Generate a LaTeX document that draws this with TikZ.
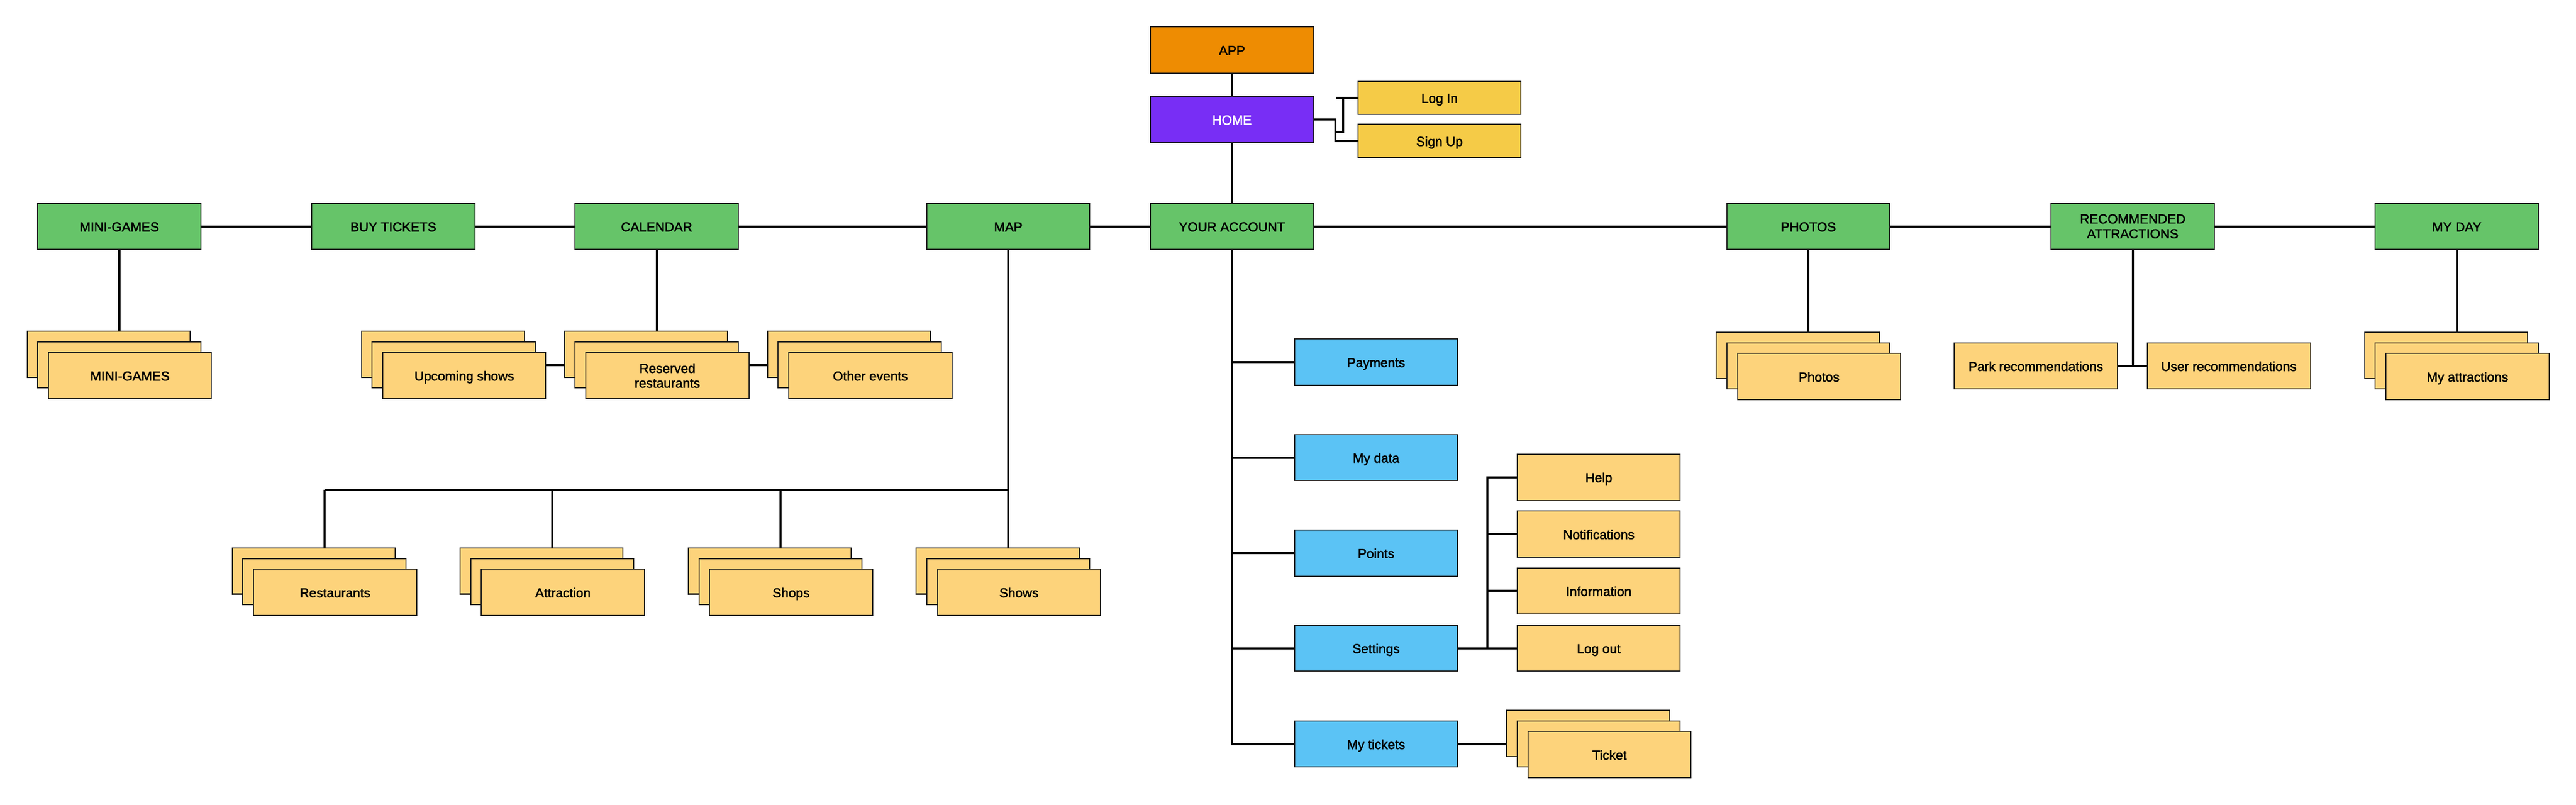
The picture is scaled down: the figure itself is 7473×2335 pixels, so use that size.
\documentclass[tikz,border=0pt]{standalone}
\usepackage{fontspec}
\setmainfont{Liberation Sans}
\newfontfamily\labelfont{Liberation Sans}[FakeBold=2]
\definecolor{apporange}{HTML}{EE8C02}
\definecolor{homepurple}{HTML}{782EF5}
\definecolor{mgreen}{HTML}{66C469}
\definecolor{mblue}{HTML}{5BC3F5}
\definecolor{myellow}{HTML}{F5CB47}
\definecolor{mpeach}{HTML}{FDD37B}
\definecolor{linec}{HTML}{1A1A1A}
\tikzset{
  boxbase/.style={draw=linec, line width=3pt, minimum width=473pt, minimum height=134pt,
    inner sep=0pt, align=center, font=\labelfont\fontsize{38}{43}\selectfont, text=black},
  box/.style={boxbase, text height=29pt, text depth=0pt},
  greenbox/.style={box, fill=mgreen},
  bluebox/.style={box, fill=mblue},
  peachbox/.style={box, fill=mpeach},
  peachtwo/.style={boxbase, fill=mpeach},
  smallbox/.style={box, fill=myellow, minimum height=97pt},
  conn/.style={line width=6pt, draw=black},
}
\newcommand{\stackbox}[5][peachbox]{%
  \node[peachbox] (#2b) at (#3-31,#4-31) {};
  \node[peachbox] (#2m) at (#3,#4) {};
  \node[#1] (#2f) at (#3+31,#4+31) {#5};
}
\begin{document}
\begin{tikzpicture}[x=1pt,y=-1pt]
\fill[white] (0,0) rectangle (7473,2335);
\useasboundingbox (0,0) rectangle (7473,2335);

% top
\node[box, fill=apporange] (app) at (3574,145) {APP};
\node[box, fill=homepurple, text=white] (home) at (3574,347) {HOME};
\node[smallbox] (login) at (4176,284) {Log In};
\node[smallbox] (signup) at (4176,409) {Sign Up};

% green row
\node[greenbox] (gmg) at (346,657) {MINI-GAMES};
\node[greenbox] (gbuy) at (1141,657) {BUY TICKETS};
\node[greenbox] (gcal) at (1905,657) {CALENDAR};
\node[greenbox] (gmap) at (2925,657) {MAP};
\node[greenbox] (acct) at (3574,657) {YOUR ACCOUNT};
\node[greenbox] (gpho) at (5246,657) {PHOTOS};
\node[boxbase, fill=mgreen] (grec) at (6187,657) {RECOMMENDED\\ATTRACTIONS};
\node[greenbox] (gday) at (7127,657) {MY DAY};

% stacks
\stackbox{mg}{346}{1059}{MINI-GAMES}
\stackbox{up}{1316}{1059}{Upcoming shows}
\stackbox[peachtwo]{rr}{1905}{1059}{Reserved\\restaurants}
\stackbox{oe}{2494}{1059}{Other events}
\stackbox{rest}{941}{1688}{Restaurants}
\stackbox{attr}{1602}{1688}{Attraction}
\stackbox{shop}{2264}{1688}{Shops}
\stackbox{show}{2925}{1688}{Shows}
\stackbox{tick}{4638}{2159}{Ticket}
\stackbox{pho}{5246}{1062}{Photos}
\stackbox{myat}{7127}{1062}{My attractions}
\node[peachbox] (park) at (5906,1062) {Park recommendations};
\node[peachbox] (user) at (6466,1062) {User recommendations};

% account column
\node[bluebox] (pay) at (3992,1051) {Payments};
\node[bluebox] (mydata) at (3992,1328) {My data};
\node[bluebox] (points) at (3992,1605) {Points};
\node[bluebox] (sett) at (3992,1881) {Settings};
\node[bluebox] (mytk) at (3992,2159) {My tickets};
\node[peachbox] (help) at (4638,1385) {Help};
\node[peachbox] (notif) at (4638,1550) {Notifications};
\node[peachbox] (info) at (4638,1715) {Information};
\node[peachbox] (logout) at (4638,1881) {Log out};

% connectors top
\draw[conn] (app) -- (home);
\draw[conn] (home) -- (acct);
\coordinate (hj) at (3874,347);
\coordinate (lj1) at (3874,383);
\coordinate (lj2) at (3897,383);
\coordinate (lj3) at (3875,383);
\draw[conn] (home.east) -- (hj) |- (signup.west);
\draw[conn] (lj1) -- (lj2) -- (lj2 |- login.west);
\draw[conn] (lj3 |- login.west) -- (login.west);

% green chain
\foreach \a/\b in {gmg/gbuy, gbuy/gcal, gcal/gmap, gmap/acct, acct/gpho, gpho/grec, grec/gday}
  \draw[conn] (\a) -- (\b);

% mini-games, calendar
\draw[conn] (gmg.south) -- (gmg.south |- mgb.north);
\draw[conn] (gcal.south) -- (gcal.south |- rrb.north);
\draw[conn] (upf.east |- upm.center) -- (rrb.west |- upm.center);
\draw[conn] (rrf.east |- rrm.center) -- (oeb.west |- rrm.center);

% map
\coordinate (bus) at (0,1421);
\draw[conn] (gmap.south) -- (gmap.south |- showb.north);
\draw[conn] (restm.center |- bus) -- (gmap.south |- bus);
\draw[conn] (restm.center |- bus) -- (restm.center |- restb.north);
\draw[conn] (attrm.center |- bus) -- (attrm.center |- attrb.north);
\draw[conn] (shopm.center |- bus) -- (shopm.center |- shopb.north);

% account
\draw[conn] (acct.south) |- (mytk.west);
\draw[conn] (acct.south |- pay.west) -- (pay.west);
\draw[conn] (acct.south |- mydata.west) -- (mydata.west);
\draw[conn] (acct.south |- points.west) -- (points.west);
\draw[conn] (acct.south |- sett.west) -- (sett.west);
\coordinate (sj) at (4315,1881);
\draw[conn] (sett.east) -- (logout.west);
\draw[conn] (sj) |- (help.west);
\draw[conn] (sj |- notif.west) -- (notif.west);
\draw[conn] (sj |- info.west) -- (info.west);
\draw[conn] (mytk.east) -- (tickb.west |- mytk.east);

% right side
\draw[conn] (gpho.south) -- (gpho.south |- phob.north);
\draw[conn] (grec.south) -- (grec.south |- park.east);
\draw[conn] (park.east) -- (user.west);
\draw[conn] (gday.south) -- (gday.south |- myatb.north);
\end{tikzpicture}
\end{document}
